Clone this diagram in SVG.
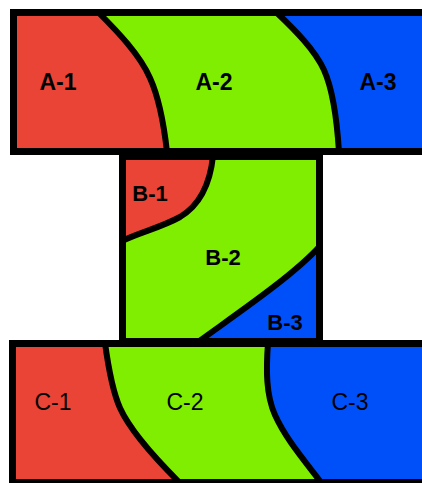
<svg xmlns="http://www.w3.org/2000/svg" width="422" height="483" viewBox="0 0 422 483">
<style>
.r{fill:#E94436}.g{fill:#80EE00}.b{fill:#0050FA}
.sep{fill:none;stroke:#000;stroke-width:6;stroke-linejoin:round}
.box{fill:none;stroke:#000;stroke-width:7}
text{font-family:"Liberation Sans",Arial,sans-serif;font-size:22px;font-weight:bold;fill:#000;text-anchor:middle}
.a{font-size:23px}
.c{font-weight:normal;font-size:23px}
</style>
<rect width="422" height="483" fill="#fff"/>
<g id="A-1"><path class="r" d="M13,12 L98,12 C118,32 140,55 150,78 C160,100 164,125 167,152 L13,152 Z"/><text class="a" x="58" y="90">A-1</text></g>
<g id="A-2"><path class="g" d="M98,12 L276,12 C295,30 315,50 324,70 C333,90 337,120 339,152 L167,152 C164,125 160,100 150,78 C140,55 118,32 98,12 Z"/><text class="a" x="214" y="90">A-2</text></g>
<g id="A-3"><path class="b" d="M276,12 L430,12 L430,152 L339,152 C337,120 333,90 324,70 C315,50 295,30 276,12 Z"/><text class="a" x="378" y="90">A-3</text></g>
<g id="B-1"><path class="r" d="M122,156 L213,156 C210,185 200,205 180,217 C160,228 140,232 122,241 Z"/><text x="150" y="201">B-1</text></g>
<g id="B-2"><path class="g" d="M213,156 L320,156 L320,246 C293,276 235,315 198,342 L122,342 L122,241 C140,232 160,228 180,217 C200,205 210,185 213,156 Z"/><text x="223" y="265">B-2</text></g>
<g id="B-3"><path class="b" d="M320,246 L320,342 L198,342 C235,315 293,276 320,246 Z"/><text x="285" y="330">B-3</text></g>
<g id="C-1"><path class="r" d="M12,343 L105,343 C108,365 112,390 120,408 C130,430 155,458 178,481 L12,481 Z"/><text class="c" x="53" y="410">C-1</text></g>
<g id="C-2"><path class="g" d="M105,343 L268,343 C266,370 266,395 275,415 C285,437 300,455 320,481 L178,481 C155,458 130,430 120,408 C112,390 108,365 105,343 Z"/><text class="c" x="185" y="410">C-2</text></g>
<g id="C-3"><path class="b" d="M268,343 L430,343 L430,481 L320,481 C300,455 285,437 275,415 C266,395 266,370 268,343 Z"/><text class="c" x="350" y="410">C-3</text></g>
<g id="connectors">
<path class="sep" d="M98,12 C118,32 140,55 150,78 C160,100 164,125 167,152"/>
<path class="sep" d="M276,12 C295,30 315,50 324,70 C333,90 337,120 339,152"/>
<path class="sep" d="M213,156 C210,185 200,205 180,217 C160,228 140,232 122,241"/>
<path class="sep" d="M320,246 C293,276 235,315 198,342"/>
<path class="sep" d="M105,343 C108,365 112,390 120,408 C130,430 155,458 178,481"/>
<path class="sep" d="M268,343 C266,370 266,395 275,415 C285,437 300,455 320,481"/>
</g>
<g id="frames">
<rect class="box" x="13.5" y="12.5" width="420" height="139"/>
<rect class="box" x="122.5" y="156.5" width="197" height="185"/>
<rect class="box" x="12.5" y="343.5" width="420" height="139"/>
</g>
</svg>
